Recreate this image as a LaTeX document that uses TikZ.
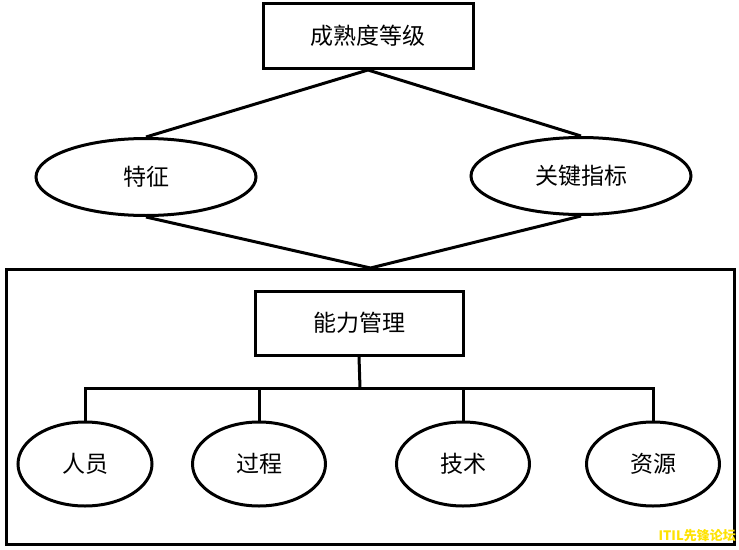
\documentclass[tikz,border=0pt]{standalone}
\usepackage{fontspec}
\newfontfamily\cjk{Noto Sans CJK SC}
\usetikzlibrary{shapes.geometric}
\begin{document}
\begin{tikzpicture}[x=1pt,y=-1pt,
  every node/.style={font=\cjk\fontsize{23}{25}\selectfont},
  box/.style={draw,line width=3pt,rectangle,inner sep=0pt},
  oval/.style={draw,line width=3pt,ellipse,inner sep=0pt},
  conn/.style={line width=3pt}]
\useasboundingbox (0,0) rectangle (739,549);
% outer frame
\node[box,minimum width=728,minimum height=275,anchor=north west] (frame) at (5,268) {};
% top
\node[box,minimum width=210,minimum height=65] (level) at (368,36) {成熟度等级};
\node[oval,minimum width=220,minimum height=77] (feat) at (146,177) {特征};
\node[oval,minimum width=220,minimum height=77] (kpi) at (581,176) {关键指标};
\draw[conn,line join=miter] (feat.north) -- (level.south) -- (kpi.north);
\draw[conn] (feat.south) -- (frame.north) -- (kpi.south);
% capability management
\node[box,minimum width=208,minimum height=64] (cap) at (359,323) {能力管理};
\node[oval,minimum width=134,minimum height=84] (ren) at (85,464) {人员};
\node[oval,minimum width=133,minimum height=84] (guo) at (259,464) {过程};
\node[oval,minimum width=133,minimum height=84] (ji) at (463,464) {技术};
\node[oval,minimum width=133,minimum height=84] (zi) at (653,464) {资源};
\coordinate (hub) at (360,388);
\draw[conn] (cap.south) -- (hub);
\draw[conn] (ren.north) |- (hub) -| (zi.north);
\draw[conn] (guo.north) -- (guo.north |- hub);
\draw[conn] (ji.north) -- (ji.north |- hub);
% watermark
\node[anchor=east,inner sep=0pt,text=yellow!85!orange,font=\cjk\bfseries\fontsize{13}{14}\selectfont] (wm) at (736,536) {ITIL先锋论坛};
\end{tikzpicture}
\end{document}
